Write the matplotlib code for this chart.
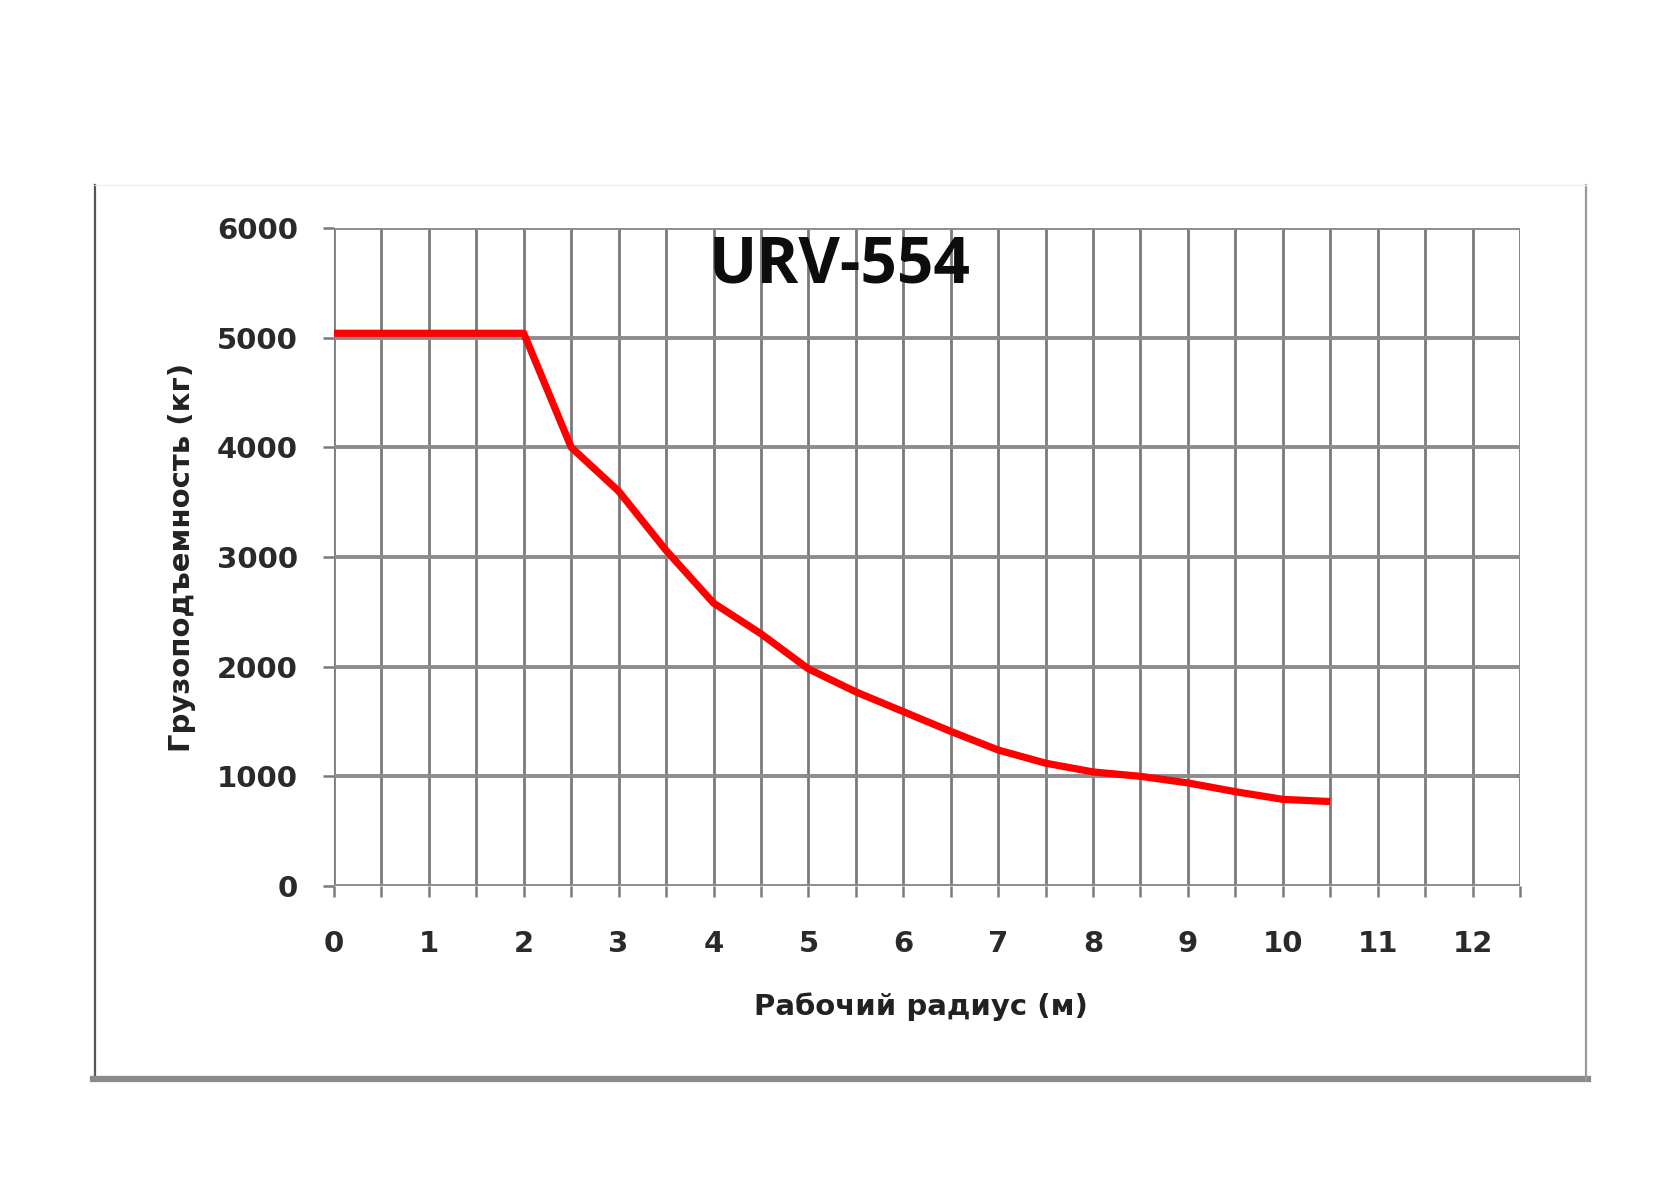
import matplotlib
matplotlib.use("Agg")
import matplotlib.pyplot as plt
from matplotlib.lines import Line2D

# Data
radius_m = [0, 0.5, 1, 1.5, 2, 2.5, 3, 3.5, 4, 4.5, 5, 5.5, 6, 6.5, 7, 7.5, 8, 8.5, 9, 9.5, 10, 10.5]
capacity_kg = [5040, 5040, 5040, 5040, 5040, 4000, 3600, 3060, 2580, 2300, 1980, 1770, 1590, 1410,
               1240, 1120, 1040, 1000, 940, 860, 790, 770]
x_ticks = list(range(0, 13))
y_ticks = [0, 1000, 2000, 3000, 4000, 5000, 6000]
title = "URV-554"
x_label = "Рабочий радиус (м)"
y_label = "Грузоподъемность (кг)"

plt.rcParams['font.family'] = ['DejaVu Sans']

fig = plt.figure(figsize=(16.8, 11.87), dpi=100)
fig.patch.set_facecolor("white")

# outer frame
W, H = 1680, 1187
def fx(px): return px / W
def fy(py): return 1 - py / H
fig.add_artist(Line2D([fx(95), fx(95)], [fy(185), fy(1080)], color="#555555", lw=1.6))
fig.add_artist(Line2D([fx(93), fx(1588)], [fy(1079), fy(1079)], color="#8a8a8a", lw=4.5))
fig.add_artist(Line2D([fx(1586), fx(1586)], [fy(185), fy(1080)], color="#9a9a9a", lw=1.6))
fig.add_artist(Line2D([fx(95), fx(1586)], [fy(185), fy(185)], color="#eeeeee", lw=1.0))

ax = fig.add_axes([334 / W, 1 - 886 / H, (1520 - 334) / W, (886 - 228) / H])
ax.plot(radius_m, capacity_kg, color="#ff0000", lw=5.2, solid_capstyle="butt",
        solid_joinstyle="round", zorder=3)

ax.set_xlim(0, 12.5)
ax.set_ylim(0, 6000)
ax.set_xticks(x_ticks)
ax.set_xticks([x + 0.5 for x in x_ticks], minor=True)
ax.set_yticks(y_ticks)
ax.grid(True, which="major", axis="x", color="#7a7a7a", lw=2.0)
ax.grid(True, which="minor", axis="x", color="#7a7a7a", lw=2.0)
ax.grid(True, which="major", axis="y", color="#8c8c8c", lw=2.8)
for s in ax.spines.values():
    s.set_visible(False)
ax.tick_params(axis="both", which="both", direction="out", length=8, width=1.8, color="#7a7a7a")
ax.tick_params(axis="x", which="major", labelsize=21, pad=24)
ax.tick_params(axis="y", which="major", labelsize=21, pad=18)
for lbl in ax.get_xticklabels() + ax.get_yticklabels():
    lbl.set_color("#2a2a2a")
    lbl.set_fontweight("bold")

ax.text(5.33, 5650, title, fontsize=46, fontweight="bold", family="Open Sans",
        ha="center", va="center", color="#0d0d0d")

fig.text(fx(921), fy(1007), x_label, fontsize=21, fontweight="bold",
         ha="center", va="center", color="#222222")
fig.text(fx(182), fy(557), y_label, fontsize=21, fontweight="bold", rotation=90,
         ha="center", va="center", color="#222222")

fig.savefig("out.png", dpi=100, facecolor="white")
